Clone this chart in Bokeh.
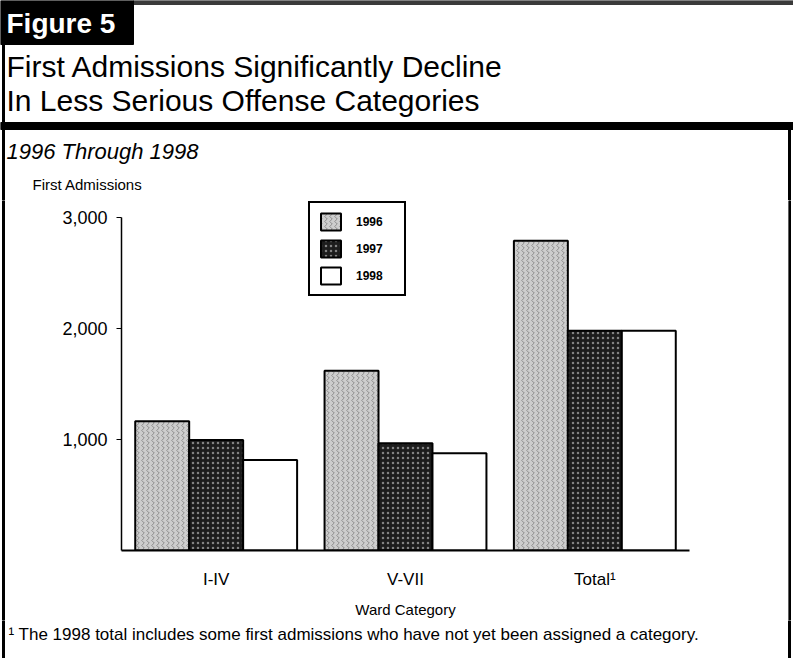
from bokeh.plotting import figure
from bokeh.layouts import column, row
from bokeh.models import (ColumnDataSource, Range1d, Label, FixedTicker, NumeralTickFormatter)
from bokeh.transform import dodge
from bokeh.embed import file_html
from bokeh.resources import INLINE

# First admissions by ward category, 1996-1998
categories = ["I-IV", "V-VII", "Total¹"]
years = ["1996", "1997", "1998"]
admissions_1996 = [1165, 1620, 2790]
admissions_1997 = [995, 965, 1980]
admissions_1998 = [815, 875, 1980]
y_ticks = [1000, 2000, 3000]

FONT = "Liberation Sans"
W = 793
HEAD_H, CHART_H, FOOT_H = 200, 420, 38
STRIP_L, STRIP_R = 5, 5
CHART_W = W - STRIP_L - STRIP_R


def panel(width, height):
    """A plain drawing surface measured in pixels, y growing downwards."""
    f = figure(width=width, height=height, x_range=Range1d(0, width),
               y_range=Range1d(height, 0), x_axis_type=None, y_axis_type=None,
               output_backend="svg", toolbar_location=None, min_border=0,
               frame_align=False)
    f.outline_line_color = None
    f.background_fill_color = "white"
    f.border_fill_color = "white"
    return f


def label(f, x, y, s, size, style="normal", color="black"):
    f.add_layout(Label(x=x, y=y, text=s, text_font=FONT, text_font_size=size,
                       text_font_style=style, text_color=color,
                       text_align="left", text_baseline="middle"))


# ---- header: figure tag, title, rule, subtitle
head = panel(W, HEAD_H)
head.quad(left=[133], right=[W], top=[0], bottom=[4], color="#3a3a3a")
head.quad(left=[0], right=[133], top=[0], bottom=[44], color="black")
head.quad(left=[2], right=[4], top=[44], bottom=[HEAD_H], color="black")
head.quad(left=[788], right=[790], top=[122], bottom=[HEAD_H], color="black")
head.quad(left=[0], right=[W], top=[122], bottom=[129], color="black")
label(head, 6, 23, "Figure 5", "28px", style="bold", color="white")
label(head, 6, 66, "First Admissions Significantly Decline", "30px")
label(head, 6, 100, "In Less Serious Offense Categories", "30px")
label(head, 6, 151, "1996 Through 1998", "22px", style="italic")
label(head, 32, 184, "First Admissions", "15px")

# ---- side strips carrying the page border
left_strip = panel(STRIP_L, CHART_H)
left_strip.quad(left=[2], right=[4], top=[0], bottom=[CHART_H], color="black")
right_strip = panel(STRIP_R, CHART_H)
right_strip.quad(left=[0], right=[2], top=[0], bottom=[CHART_H], color="black")

# ---- bar chart
FRAME_L, FRAME_R, FRAME_B = 121 - STRIP_L, 689, 552   # page pixels
y_per_px = 3000 / (FRAME_B - 217)
y_top = 3000 + (217 - HEAD_H) * y_per_px

slots = [i + 0.5 for i in range(len(categories))]
source = ColumnDataSource(dict(x=slots, y1996=admissions_1996,
                               y1997=admissions_1997, y1998=admissions_1998))

p = figure(width=CHART_W, height=CHART_H, x_range=Range1d(0, len(categories)),
           y_range=Range1d(0, y_top), output_backend="svg", toolbar_location=None,
           min_border_left=FRAME_L, min_border_right=W - STRIP_R - FRAME_R,
           min_border_top=0, min_border_bottom=HEAD_H + CHART_H - FRAME_B,
           frame_align=False)
p.background_fill_color = "white"
p.border_fill_color = "white"
p.outline_line_color = None
p.xgrid.grid_line_color = None
p.ygrid.grid_line_color = None

bw = 0.285
styles = [
    dict(fill_color="#cdcdcd", hatch_pattern="vertical_wave", hatch_color="#555555",
         hatch_alpha=0.55, hatch_scale=5, hatch_weight=1),
    dict(fill_color="#1c1c1c", hatch_pattern="dot", hatch_color="#ffffff",
         hatch_alpha=0.45, hatch_scale=5, hatch_weight=1),
    dict(fill_color="#ffffff"),
]
for i, (yr, col) in enumerate(zip(years, ["y1996", "y1997", "y1998"])):
    p.vbar(x=dodge("x", (i - 1) * bw), top=col, width=bw,
           source=source, line_color="black", line_width=2, legend_label=yr,
           **styles[i])

p.yaxis.bounds = (0, 3000)
p.yaxis.ticker = FixedTicker(ticks=y_ticks)
p.yaxis.formatter = NumeralTickFormatter(format="0,0")
p.yaxis.minor_tick_line_color = None
p.yaxis.major_tick_out = 5
p.yaxis.major_tick_in = 0
p.yaxis.axis_line_width = 1.5
p.yaxis.major_label_text_font = FONT
p.yaxis.major_label_text_font_size = "18px"
p.yaxis.major_label_text_color = "black"
p.yaxis.major_label_standoff = 9

p.xaxis.ticker = FixedTicker(ticks=slots)
p.xaxis.major_label_overrides = {s: c for s, c in zip(slots, categories)}
p.xaxis.axis_line_width = 2
p.xaxis.major_tick_line_color = None
p.xaxis.minor_tick_line_color = None
p.xaxis.major_label_text_font = FONT
p.xaxis.major_label_text_font_size = "17px"
p.xaxis.major_label_text_color = "black"
p.xaxis.major_label_standoff = 13
p.xaxis.axis_label = "Ward Category"
p.xaxis.axis_label_text_font = FONT
p.xaxis.axis_label_text_font_style = "normal"
p.xaxis.axis_label_text_font_size = "15px"
p.xaxis.axis_label_text_color = "black"
p.xaxis.axis_label_standoff = 9

lg = p.legend[0]
lg.location = (308 - 121, FRAME_B - 298)
lg.border_line_color = "black"
lg.border_line_alpha = 1
lg.border_line_width = 2
lg.background_fill_alpha = 1
lg.glyph_width = 25
lg.glyph_height = 21
lg.label_height = 21
lg.spacing = 6
lg.padding = 8
lg.margin = 0
lg.label_standoff = 13
lg.label_width = 40
lg.label_text_font = FONT
lg.label_text_font_size = "12px"
lg.label_text_font_style = "bold"
lg.label_text_color = "black"

# ---- footer: footnote
foot = panel(W, FOOT_H)
foot.quad(left=[2], right=[4], top=[0], bottom=[FOOT_H], color="black")
foot.quad(left=[788], right=[790], top=[0], bottom=[FOOT_H], color="black")
label(foot, 8, 14, "¹ The 1998 total includes some first admissions who have not yet been assigned a category.", "17px")

page = column(head, row(left_strip, p, right_strip, spacing=0), foot, spacing=0)
open("out.html", "w").write(file_html(page, INLINE))
